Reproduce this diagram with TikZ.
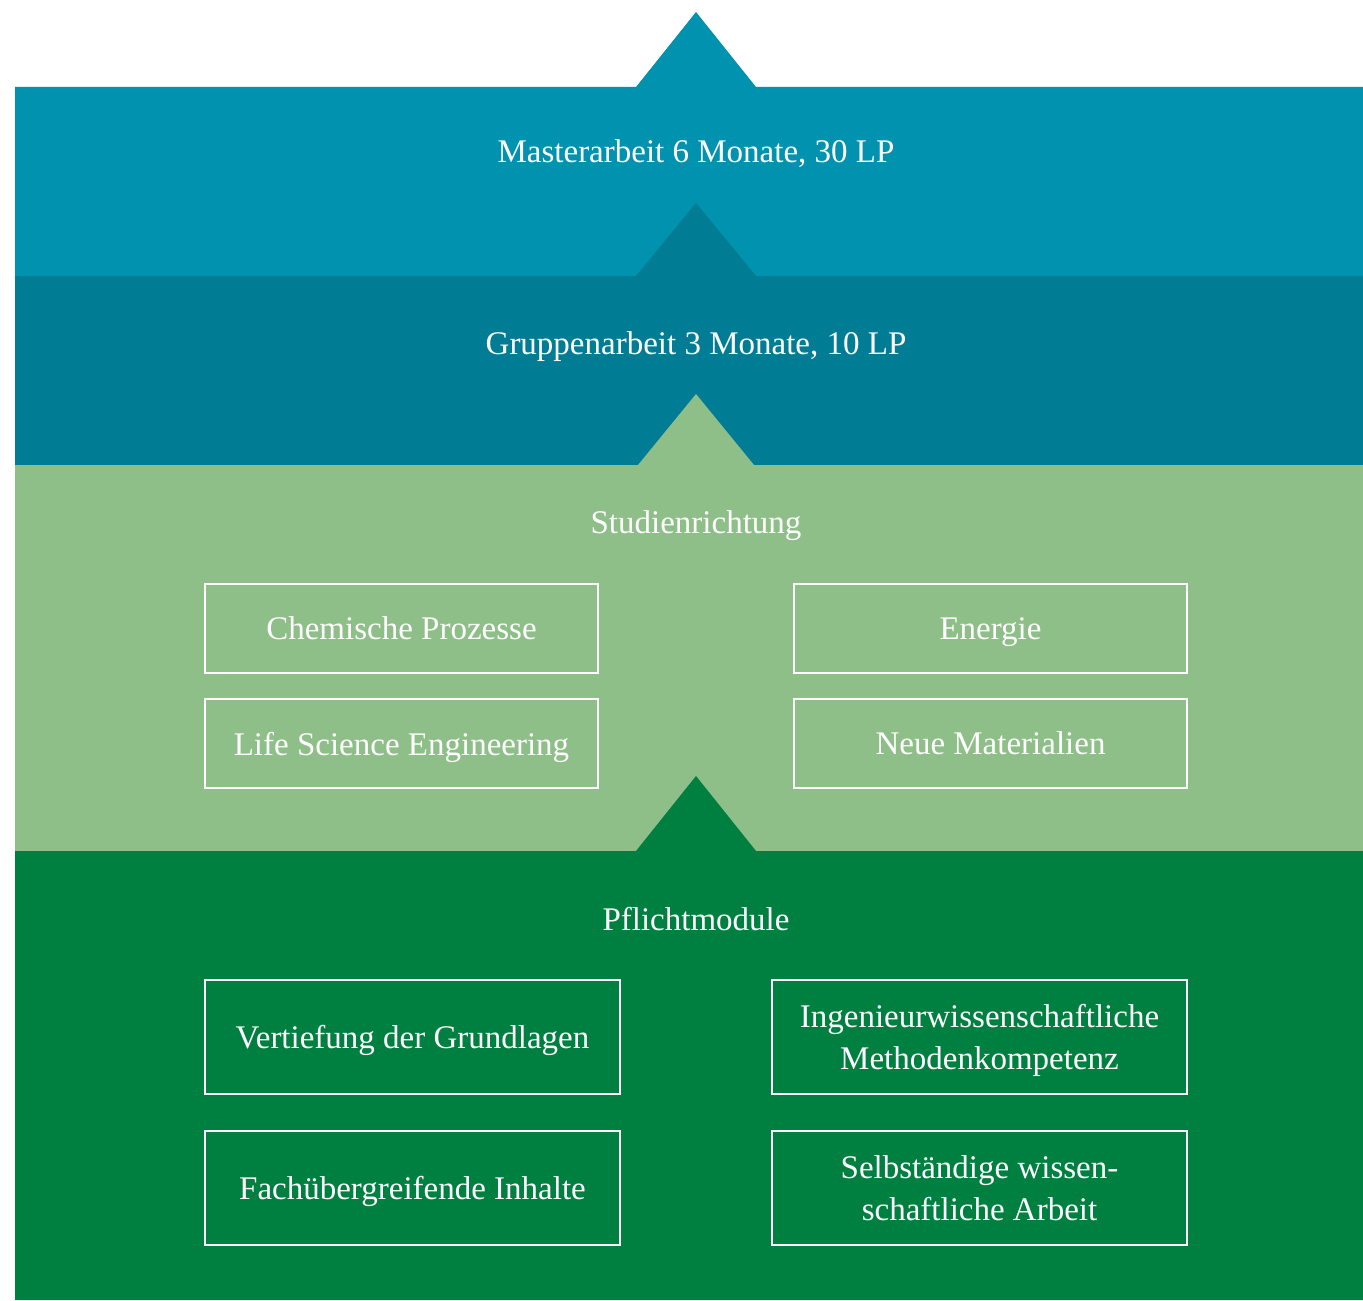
\documentclass[tikz,border=0pt]{standalone}
\usepackage{fontspec}
\setmainfont{Liberation Serif}
\definecolor{masterblue}{RGB}{0,146,174}
\definecolor{groupblue}{RGB}{0,124,148}
\definecolor{branchgreen}{RGB}{143,191,136}
\definecolor{coregreen}{RGB}{0,128,64}
\begin{document}
\begin{tikzpicture}[x=0.5pt,y=-0.5pt,
    layertitle/.style={anchor=base,text=white,font=\fontsize{16.5}{21}\selectfont},
    modbox/.style={draw=white,line width=1.2pt,text=white,align=center,text depth=0pt,
      font=\fontsize{16.5}{21}\selectfont},
    branchbox/.style={modbox,minimum width=196.5pt,minimum height=44.5pt},
    corebox/.style={modbox,minimum width=207.5pt,minimum height=57pt}]
  \useasboundingbox (0,0) rectangle (1363,1300);
  %% Masterarbeit
  \fill[masterblue] (15,87) -- (636,87) -- (696,12) -- (756,87) -- (1363,87) -- (1363,276) -- (15,276) -- cycle;
  \node[layertitle] (master) at (696,163) {Masterarbeit 6 Monate, 30 LP};
  %% Gruppenarbeit
  \fill[groupblue] (15,276) -- (636,276) -- (696,203) -- (756,276) -- (1363,276) -- (1363,465) -- (15,465) -- cycle;
  \node[layertitle] (group) at (696,354) {Gruppenarbeit 3 Monate, 10 LP};
  %% Studienrichtung
  \fill[branchgreen] (15,465) -- (638,465) -- (696,394) -- (754,465) -- (1363,465) -- (1363,851) -- (15,851) -- cycle;
  \node[layertitle] (branch) at (696,533) {Studienrichtung};
  \node[branchbox] (chem) at (401.5,628.5) {Chemische Prozesse};
  \node[branchbox] (energy) at (990.5,628.5) {Energie};
  \node[branchbox] (life) at (401.5,743.5) {Life Science Engineering};
  \node[branchbox] (material) at (990.5,743.5) {Neue Materialien};
  %% Pflichtmodule
  \fill[coregreen] (15,851) -- (636,851) -- (696,776) -- (756,851) -- (1363,851) -- (1363,1300) -- (15,1300) -- cycle;
  \node[layertitle] (core) at (696,930) {Pflichtmodule};
  \node[corebox] (basics) at (412.5,1037) {Vertiefung der Grundlagen};
  \node[corebox] (method) at (979.5,1037) {Ingenieurwissenschaftliche\\Methodenkompetenz};
  \node[corebox] (cross) at (412.5,1188) {Fachübergreifende Inhalte};
  \node[corebox] (thesis) at (979.5,1188) {Selbständige wissen-\\schaftliche Arbeit};
\end{tikzpicture}
\end{document}
